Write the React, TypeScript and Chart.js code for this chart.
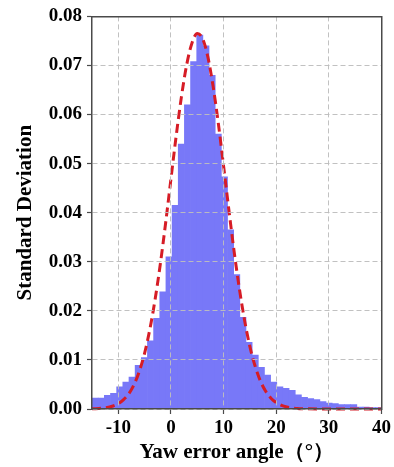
import React, { useEffect, useRef } from 'react';
import { Chart, registerables } from 'chart.js';

Chart.register(...registerables);

// Histogram bins (bin centres, degrees) and their density values
const BIN_CENTERS = [
  -14.41, -13.24, -12.07, -10.9, -9.73, -8.56, -7.39, -6.22, -5.05, -3.88,
  -2.71, -1.54, -0.37, 0.8, 1.97, 3.14, 4.31, 5.48, 6.65, 7.82,
  8.99, 10.16, 11.33, 12.5, 13.67, 14.84, 16.01, 17.18, 18.35, 19.52,
  20.69, 21.86, 23.03, 24.2, 25.37, 26.54, 27.71, 28.88, 30.05, 31.22,
  32.39, 33.56, 34.73, 35.9, 37.07, 38.24, 39.41,
];
const BIN_DENSITY = [
  0.0022, 0.0022, 0.0028, 0.0032, 0.0045, 0.0055, 0.0065, 0.0089, 0.0105, 0.0139,
  0.0185, 0.0239, 0.031, 0.0415, 0.054, 0.062, 0.0708, 0.0762, 0.074, 0.068,
  0.056, 0.0473, 0.0365, 0.0274, 0.0187, 0.0136, 0.011, 0.0085, 0.0069, 0.0055,
  0.0045, 0.0042, 0.0038, 0.0029, 0.0024, 0.0021, 0.0019, 0.0015, 0.0012, 0.0011,
  0.0009, 0.0009, 0.0009, 0.0004, 0.0004, 0.0003, 0.0003,
];

// Fitted normal curve
const CURVE_X = [
  -15, -13, -11, -10, -9, -8, -7, -6, -5, -4, -3, -2, -1, 0, 1, 2, 3, 4, 5, 6, 7, 8, 9,
  10, 11, 12, 13, 14, 15, 16, 17, 18, 19, 20, 21, 22, 23, 24, 26, 28, 32, 36, 40,
];
const CURVE_Y = [
  0.00004, 0.00017, 0.00062, 0.0011, 0.0019, 0.0031, 0.005, 0.0077, 0.0114, 0.0163,
  0.0224, 0.0297, 0.038, 0.0469, 0.0557, 0.0637, 0.0702, 0.0746, 0.0765, 0.0755,
  0.0718, 0.0658, 0.0582, 0.0495, 0.0406, 0.0321, 0.0245, 0.018, 0.0127, 0.0087,
  0.0057, 0.0036, 0.0022, 0.0013, 0.00073, 0.0004, 0.00021, 0.0001, 0.00003, 0, 0, 0, 0,
];

const X_TICKS = [-10, 0, 10, 20, 30, 40];
const Y_TICKS = [0, 0.01, 0.02, 0.03, 0.04, 0.05, 0.06, 0.07, 0.08];
const X_TITLE = 'Yaw error angle（°）';
const Y_TITLE = 'Standard Deviation';

const FONT = 'Liberation Serif, "Times New Roman", serif';
const AXIS_COLOR = '#4a4a4a';

export default function App() {
  const ref = useRef<HTMLCanvasElement | null>(null);

  useEffect(() => {
    if (!ref.current) return;
    const tickFont = { family: FONT, size: 19, weight: 'bold' as const };
    const titleFont = { family: FONT, size: 21, weight: 'bold' as const };
    const gridOpts = {
      color: 'rgba(190,190,190,0.95)',
      lineWidth: 1,
      tickColor: AXIS_COLOR,
      tickLength: 5,
      tickWidth: 1.2,
      offset: false,
      z: 1,
    };
    const borderOpts = { display: true, color: AXIS_COLOR, width: 1.5, dash: [5, 3], z: 2 };
    const frameAxis = (position: string, min: number, max: number) => ({
      type: 'linear',
      position,
      min,
      max,
      offset: false,
      ticks: { display: false },
      grid: { display: false, drawTicks: false, drawOnChartArea: false, z: 1 },
      border: { display: true, color: AXIS_COLOR, width: 1.5, z: 2 },
      title: { display: false },
    });
    const chart = new Chart(ref.current, {
      type: 'bar',
      data: {
        datasets: [
          {
            type: 'line',
            data: CURVE_X.map((x, i) => ({ x, y: CURVE_Y[i] })),
            borderColor: 'rgb(214,28,38)',
            borderWidth: 3,
            borderDash: [9, 5],
            pointRadius: 0,
            fill: false,
            cubicInterpolationMode: 'monotone',
            order: 0,
            clip: 5,
          } as any,
          {
            type: 'bar',
            data: BIN_CENTERS.map((x, i) => ({ x, y: BIN_DENSITY[i] })),
            backgroundColor: 'rgb(120,120,248)',
            borderWidth: 0,
            barPercentage: 1,
            categoryPercentage: 1,
            order: 1,
          } as any,
        ],
      },
      options: {
        animation: false,
        responsive: false,
        devicePixelRatio: 1,
        layout: { padding: { left: 0, right: 8, top: 14, bottom: 0 } },
        plugins: { legend: { display: false }, tooltip: { enabled: false } },
        scales: {
          x: {
            type: 'linear',
            min: -15,
            max: 40,
            offset: false,
            afterBuildTicks: (s: any) => {
              s.ticks = X_TICKS.map((v) => ({ value: v }));
            },
            afterFit: (s: any) => {
              s.height = 58;
            },
            ticks: { font: tickFont, color: '#000', padding: 3, maxRotation: 0 },
            grid: gridOpts,
            border: borderOpts,
            title: {
              display: true,
              text: X_TITLE,
              font: titleFont,
              color: '#000',
              padding: { top: 0, bottom: 2 },
            },
          },
          y: {
            type: 'linear',
            min: 0,
            max: 0.08,
            afterBuildTicks: (s: any) => {
              s.ticks = Y_TICKS.map((v) => ({ value: v }));
            },
            afterFit: (s: any) => {
              s.width = 92;
            },
            ticks: {
              font: tickFont,
              color: '#000',
              padding: 5,
              callback: (v: any) => Number(v).toFixed(2),
            },
            grid: gridOpts,
            border: borderOpts,
            title: {
              display: true,
              text: Y_TITLE,
              font: titleFont,
              color: '#000',
              padding: { top: 13, bottom: 0 },
            },
          },
          xTop: frameAxis('top', -15, 40),
          yRight: frameAxis('right', 0, 0.08),
        },
      } as any,
    });
    return () => chart.destroy();
  }, []);

  return (
    <div style={{ position: 'fixed', left: 0, top: 0, width: 394, height: 467, background: '#fff' }}>
      <canvas ref={ref} width={394} height={467} style={{ width: 394, height: 467 }} />
    </div>
  );
}
